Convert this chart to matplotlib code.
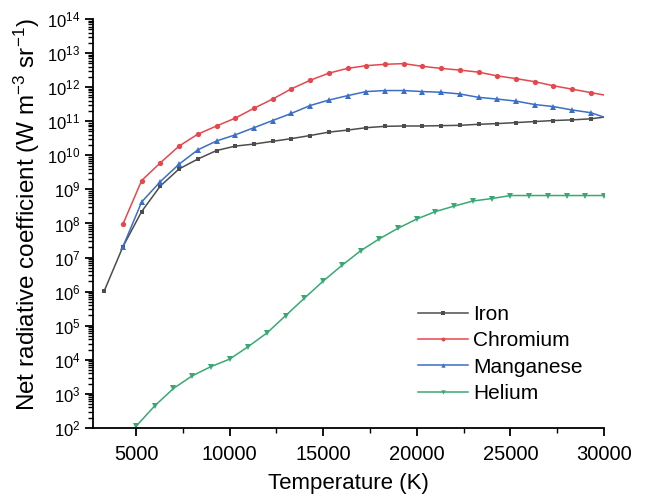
import numpy as np
import matplotlib
matplotlib.use("Agg")
import matplotlib.pyplot as plt
from matplotlib.ticker import LogLocator, FixedLocator

plt.rcParams['font.family'] = ['Liberation Sans', 'DejaVu Sans']
plt.rcParams['mathtext.fontset'] = 'custom'
plt.rcParams['mathtext.rm'] = 'Liberation Sans'
plt.rcParams['mathtext.it'] = 'Liberation Sans:italic'
plt.rcParams['mathtext.bf'] = 'Liberation Sans:bold'

# ---- data (log10 of net radiative coefficient, W m^-3 sr^-1) ----
iron_T = [3300, 4300, 5300, 6300, 7300, 8300, 9300, 10300, 11300, 12300, 13300,
          14300, 15300, 16300, 17300, 18300, 19300, 20300, 21300, 22300, 23300,
          24300, 25300, 26300, 27300, 28300, 29300, 30000]
iron_log = [6.02, 7.32, 8.35, 9.10, 9.60, 9.89, 10.14, 10.27, 10.33, 10.41, 10.49,
            10.58, 10.68, 10.74, 10.81, 10.85, 10.86, 10.86, 10.87, 10.88, 10.91,
            10.93, 10.96, 10.99, 11.02, 11.04, 11.07, 11.12]

metal_T = [4300, 5300, 6300, 7300, 8300, 9300, 10300, 11300, 12300, 13300,
           14300, 15300, 16300, 17300, 18300, 19300, 20300, 21300, 22300, 23300,
           24300, 25300, 26300, 27300, 28300, 29300, 30000]
chromium_log = [7.98, 9.26, 9.78, 10.27, 10.62, 10.86, 11.09, 11.38, 11.65, 11.95,
                12.20, 12.41, 12.55, 12.63, 12.67, 12.69, 12.61, 12.55, 12.50, 12.44,
                12.33, 12.25, 12.16, 12.04, 11.94, 11.84, 11.77]
manganese_log = [7.32, 8.63, 9.23, 9.74, 10.16, 10.42, 10.60, 10.81, 11.02, 11.23,
                 11.46, 11.62, 11.75, 11.87, 11.90, 11.90, 11.87, 11.85, 11.80,
                 11.70, 11.65, 11.59, 11.49, 11.43, 11.33, 11.25, 11.12]

helium_T = list(range(5000, 30001, 1000))
helium_log = [2.05, 2.65, 3.16, 3.53, 3.80, 4.02, 4.39, 4.79, 5.30, 5.81, 6.31,
              6.77, 7.20, 7.55, 7.86, 8.13, 8.35, 8.51, 8.66, 8.73, 8.82, 8.82,
              8.82, 8.82, 8.82, 8.82]

series_names = ["Iron", "Chromium", "Manganese", "Helium"]
series_T = [iron_T, metal_T, metal_T, helium_T]
series_log = [iron_log, chromium_log, manganese_log, helium_log]
colors = ['#4d4d4d', '#e5474d', '#3b6ec6', '#3aa873']
markers = ['s', 'o', '^', 'v']
msizes = [3.4, 3.8, 4.2, 4.2]

fig = plt.figure(figsize=(6.48, 4.99), dpi=100)
ax = fig.add_axes([0.1435, 0.1423, 0.7885, 0.8197])

for name, T, lg, col, mk, ms in zip(series_names, series_T, series_log, colors, markers, msizes):
    vals = 10.0 ** np.asarray(lg)
    me = slice(0, len(T) - 1) if name != "Helium" else None
    ax.plot(T, vals, color=col, lw=1.1, marker=mk, ms=ms, markevery=me,
            markeredgewidth=0, label=name)

ax.set_yscale('log')
ax.set_xlim(2700, 30000)
ax.set_ylim(1e2, 1e14)
ax.xaxis.set_major_locator(FixedLocator([5000, 10000, 15000, 20000, 25000, 30000]))
ax.xaxis.set_minor_locator(FixedLocator([7500, 12500, 17500, 22500, 27500]))
ax.yaxis.set_major_locator(LogLocator(base=10, numticks=20))
ax.yaxis.set_minor_locator(LogLocator(base=10, subs=np.arange(2, 10), numticks=200))

for s in ['top', 'right']:
    ax.spines[s].set_visible(False)
for s in ['left', 'bottom']:
    ax.spines[s].set_linewidth(1.3)
ax.tick_params(which='major', direction='out', length=6, width=1.3)
ax.tick_params(which='minor', direction='out', length=3.5, width=1.0)
ax.tick_params(axis='x', which='major', labelsize=14.5, pad=6)
ax.tick_params(axis='y', which='major', labelsize=12, pad=3)

ax.set_xlabel("Temperature (K)", fontsize=16, labelpad=7)
ax.set_ylabel("Net radiative coefficient (W m$^{-3}$ sr$^{-1}$)", fontsize=17.5)
ax.yaxis.set_label_coords(-0.100, 0.521)

leg = ax.legend(loc='upper left', bbox_to_anchor=(0.636, 0.30), frameon=False,
                fontsize=15, handlelength=2.4, handletextpad=0.25, labelspacing=0.345,
                borderpad=0, borderaxespad=0, markerscale=0.75)

fig.savefig("out.png", dpi=100)
